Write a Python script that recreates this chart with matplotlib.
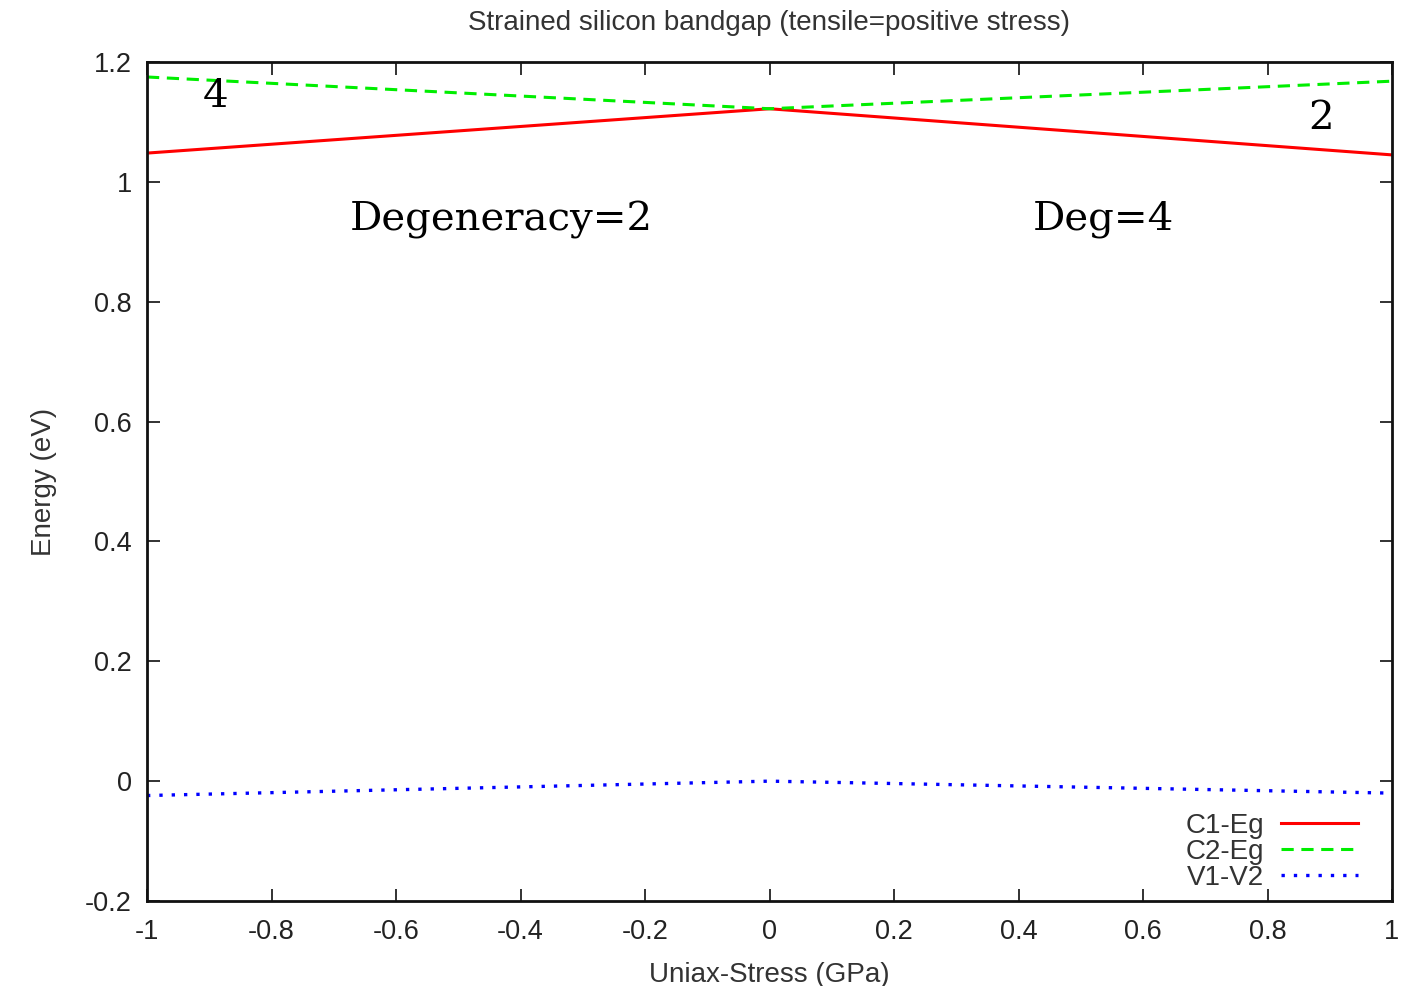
import numpy as np
import matplotlib
matplotlib.use("Agg")
import matplotlib.pyplot as plt

# stress values (GPa) and energies (eV)
stress = [-1.0, 0.0, 1.0]
c1_eg = [1.048, 1.122, 1.045]
c2_eg = [1.175, 1.122, 1.168]
v1_v2 = [-0.024, 0.0, -0.020]

xticks = [-1, -0.8, -0.6, -0.4, -0.2, 0, 0.2, 0.4, 0.6, 0.8, 1]
yticks = [-0.2, 0, 0.2, 0.4, 0.6, 0.8, 1, 1.2]

plt.rcParams['font.family'] = ['Liberation Sans', 'DejaVu Sans']
grey = '#333333'

fig = plt.figure(figsize=(14.11, 9.86), dpi=100)
ax = fig.add_axes([147/1411, 1 - 901/986, (1392-147)/1411, (901-62)/986])

ax.plot(stress, c1_eg, color='#ff0000', lw=2.2, label='C1-Eg')
ax.plot(stress, c2_eg, color='#00ee00', lw=2.2, dashes=(4, 2.5), label='C2-Eg')
ax.plot(stress, v1_v2, color='#0000ff', lw=2.4, dashes=(1, 2.7), label='V1-V2')

ax.set_xlim(-1, 1)
ax.set_ylim(-0.2, 1.2)
ax.set_xticks(xticks)
ax.set_yticks(yticks)
ax.set_xticklabels(['%g' % t for t in xticks])
ax.set_yticklabels(['%g' % t for t in yticks])
ax.tick_params(direction='in', top=True, right=True, length=9, width=1.3,
               labelsize=19.5, colors='#222222')
ax.tick_params(axis='x', pad=13)
ax.tick_params(axis='y', pad=11)
for s in ax.spines.values():
    s.set_linewidth(2)
    s.set_color('#111111')

ax.set_title('Strained silicon bandgap (tensile=positive stress)', fontsize=20,
             color=grey, pad=23)
ax.set_xlabel('Uniax-Stress (GPa)', fontsize=20, color=grey, labelpad=12)
ax.set_ylabel('Energy (eV)', fontsize=20, color=grey, labelpad=20)

serif = ['DejaVu Serif']
ax.text(-0.675, 0.937, 'Degeneracy=2', fontsize=29, family=serif, va='center')
ax.text(0.423, 0.937, 'Deg=4', fontsize=29, family=serif, va='center')
ax.text(-0.91, 1.142, '4', fontsize=29, family=serif, va='center')
ax.text(0.865, 1.105, '2', fontsize=29, family=serif, va='center')

leg = ax.legend(loc='lower right', bbox_to_anchor=(0.973, 0.012),
                frameon=False, markerfirst=False,
                fontsize=20, handlelength=2.8, labelspacing=0.0,
                handletextpad=0.6, borderaxespad=0, borderpad=0)
for t in leg.get_texts():
    t.set_color(grey)
    t.set_ha('right')

fig.savefig('out.png', dpi=100)
